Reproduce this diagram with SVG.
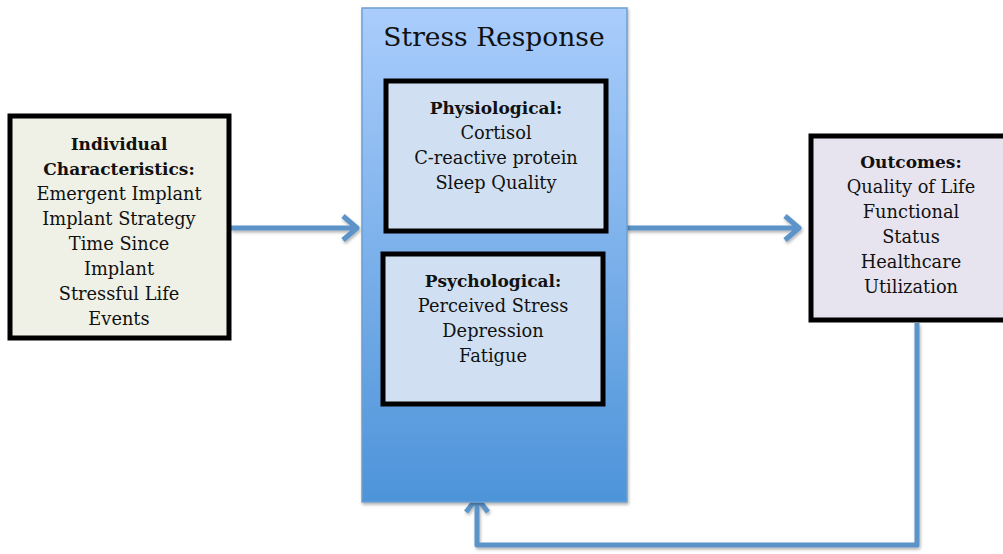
<svg xmlns="http://www.w3.org/2000/svg" width="1003" height="554" viewBox="0 0 1003 554">
  <style>
    .lbl { font-family: "DejaVu Serif", "Liberation Serif", serif; font-size: 17.8px; fill: #111; text-anchor: middle; }
    .hd { font-weight: bold; font-size: 17px; }
    .box { stroke: #000; stroke-width: 5; }
    .conn { fill: none; stroke: #5b93c8; stroke-width: 5; stroke-linejoin: round; }
  </style>
  <defs>
    <linearGradient id="stressFill" x1="0" y1="0" x2="0" y2="1">
      <stop offset="0" stop-color="#aacdfc"/>
      <stop offset="1" stop-color="#4d94d9"/>
    </linearGradient>
    <filter id="shadow" x="-10%" y="-10%" width="130%" height="130%">
      <feDropShadow dx="1" dy="2" stdDeviation="1.5" flood-color="#000" flood-opacity="0.3"/>
    </filter>
  </defs>
  <rect width="1003" height="554" fill="#fff"/>

  <g id="connectors" filter="url(#shadow)">
    <path class="conn" d="M231 228 H357 M343 216 L357 228 L343 240"/>
    <path class="conn" d="M627 228 H799 M785 216 L799 228 L785 240"/>
    <path class="conn" d="M917 323 V545 H477 V498 M466 512 L477 498 L488 512"/>
  </g>

  <g id="stress-response">
    <rect x="362" y="8" width="265" height="494" fill="url(#stressFill)" stroke="#6d9fd0" stroke-width="1.5" filter="url(#shadow)"/>
    <text class="lbl" x="494" y="46" style="font-size:26.5px">Stress Response</text>
  </g>

  <g id="individual-characteristics">
    <rect class="box" x="10" y="116" width="219" height="222" fill="#eff0e6"/>
    <text class="lbl hd" x="119" y="150">Individual</text>
    <text class="lbl hd" x="119" y="175">Characteristics:</text>
    <text class="lbl" x="119" y="200">Emergent Implant</text>
    <text class="lbl" x="119" y="225">Implant Strategy</text>
    <text class="lbl" x="119" y="250">Time Since</text>
    <text class="lbl" x="119" y="275">Implant</text>
    <text class="lbl" x="119" y="300">Stressful Life</text>
    <text class="lbl" x="119" y="325">Events</text>
  </g>

  <g id="physiological">
    <rect class="box" x="386" y="81" width="220" height="150" fill="#d0e0f2"/>
    <text class="lbl hd" x="496" y="114">Physiological:</text>
    <text class="lbl" x="496" y="139">Cortisol</text>
    <text class="lbl" x="496" y="164">C-reactive protein</text>
    <text class="lbl" x="496" y="189">Sleep Quality</text>
  </g>

  <g id="psychological">
    <rect class="box" x="383" y="254" width="220" height="150" fill="#d0e0f2"/>
    <text class="lbl hd" x="493" y="287">Psychological:</text>
    <text class="lbl" x="493" y="312">Perceived Stress</text>
    <text class="lbl" x="493" y="337">Depression</text>
    <text class="lbl" x="493" y="362">Fatigue</text>
  </g>

  <g id="outcomes">
    <rect class="box" x="811" y="136" width="200" height="184" fill="#e8e4ef"/>
    <text class="lbl hd" x="911" y="168">Outcomes:</text>
    <text class="lbl" x="911" y="193">Quality of Life</text>
    <text class="lbl" x="911" y="218">Functional</text>
    <text class="lbl" x="911" y="243">Status</text>
    <text class="lbl" x="911" y="268">Healthcare</text>
    <text class="lbl" x="911" y="293">Utilization</text>
  </g>
</svg>
